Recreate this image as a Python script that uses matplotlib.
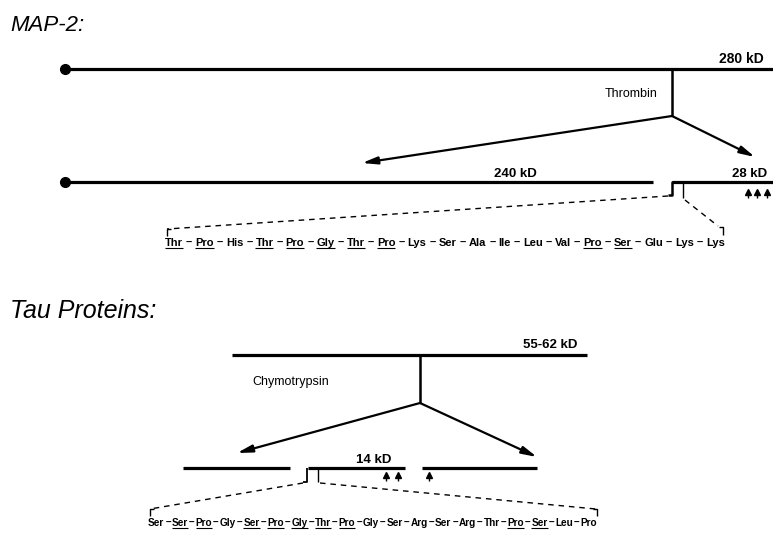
import matplotlib.pyplot as plt

plt.rcParams['font.family'] = ['Liberation Sans', 'DejaVu Sans']

# residues of the two peptide sequences and which ones are underlined
map2_seq = ['Thr', 'Pro', 'His', 'Thr', 'Pro', 'Gly', 'Thr', 'Pro', 'Lys', 'Ser',
            'Ala', 'Ile', 'Leu', 'Val', 'Pro', 'Ser', 'Glu', 'Lys', 'Lys']
map2_under = [0, 1, 3, 4, 5, 6, 7, 14, 15]
tau_seq = ['Ser', 'Ser', 'Pro', 'Gly', 'Ser', 'Pro', 'Gly', 'Thr', 'Pro', 'Gly',
           'Ser', 'Arg', 'Ser', 'Arg', 'Thr', 'Pro', 'Ser', 'Leu', 'Pro']
tau_under = [1, 2, 4, 5, 6, 7, 8, 15, 16]

titles = ['MAP-2:', 'Tau Proteins:']
map2_labels = ['280 kD', '240 kD', '28 kD']
tau_labels = ['55-62 kD', '14 kD']
enzymes = ['Thrombin', 'Chymotrypsin']

fig = plt.figure(figsize=(7.73, 5.34), dpi=100)
ax = fig.add_axes([0, 0, 1, 1])
ax.set_xlim(0, 773)
ax.set_ylim(534, 0)
ax.axis('off')
r = fig.canvas.get_renderer()

K = 'black'
LW = 2.3


def line(xs, ys, lw=LW, **kw):
    ax.plot(xs, ys, color=K, lw=lw, solid_capstyle='butt', **kw)


def arrow(x0, y0, x1, y1):
    ax.annotate('', xy=(x1, y1), xytext=(x0, y0),
                arrowprops=dict(arrowstyle='-|>,head_length=0.9,head_width=0.22',
                                color=K, lw=1.6, shrinkA=0, shrinkB=0))


def dashed(xs, ys):
    ax.plot(xs, ys, color=K, lw=1.0, ls=(0, (4, 3.5)))


def draw_seq(res, under, x0, x1, y, fs):
    toks = []
    for i, s in enumerate(res):
        toks.append((s, i in under))
        if i < len(res) - 1:
            toks.append(('\u2013', False))
    objs = [ax.text(0, y, s, fontsize=fs, fontweight='bold', va='baseline', ha='left')
            for s, u in toks]
    widths = [o.get_window_extent(r).width for o in objs]
    gap = (x1 - x0 - sum(widths)) / (len(objs) - 1)
    x = x0
    for o, w, (s, u) in zip(objs, widths, toks):
        o.set_x(x)
        if u:
            line([x, x + w], [y + 2, y + 2], lw=0.8)
        x += w + gap


# ---- MAP-2 ----
ax.text(10, 31, titles[0], fontsize=16, style='italic', va='baseline')
line([65, 773], [69, 69])
ax.plot(65, 69, 'o', color=K, ms=7)
ax.text(764, 63, map2_labels[0], fontsize=10, fontweight='bold', ha='right', va='baseline')
line([672, 672], [69, 116], lw=1.8)
ax.text(658, 97, enzymes[0], fontsize=9, ha='right', va='baseline')
arrow(672, 116, 362, 163)
arrow(672, 116, 755, 157)

line([65, 653], [182, 182])
ax.plot(65, 182, 'o', color=K, ms=7)
ax.text(515, 177, map2_labels[1], fontsize=9.5, fontweight='bold', ha='center', va='baseline')
line([668, 672, 672, 773], [195, 195, 182, 182], lw=1.8)
line([672, 773], [182, 182])
line([683, 683], [182, 198], lw=1.0)
ax.text(767, 177, map2_labels[2], fontsize=9.5, fontweight='bold', ha='right', va='baseline')
for x in [748, 757, 767]:
    line([x, x], [191, 198], lw=1.0)
    ax.plot(x, 192, '^', color=K, ms=4.5)

dashed([668, 167], [196, 229])
line([167, 167, 171], [236, 229, 229], lw=1.0)
dashed([685, 718], [200, 226])
line([719, 723, 723], [227, 227, 235], lw=1.0)
draw_seq(map2_seq, map2_under, 165, 725, 246, 8)

# ---- Tau ----
ax.text(10, 318, titles[1], fontsize=18, style='italic', va='baseline')
line([232, 587], [355, 355])
ax.text(577, 348, tau_labels[0], fontsize=9.5, fontweight='bold', ha='right', va='baseline')
line([420, 420], [355, 403], lw=1.8)
ax.text(252, 385, enzymes[1], fontsize=9, ha='left', va='baseline')
arrow(420, 403, 237, 453)
arrow(420, 403, 537, 457)

line([183, 290], [468, 468])
line([308, 405], [468, 468])
line([422, 537], [468, 468])
line([303, 307, 307], [482, 482, 468], lw=1.3)
line([318, 318], [468, 482], lw=1.0)
ax.text(374, 463, tau_labels[1], fontsize=9.5, fontweight='bold', ha='center', va='baseline')
for x in [386, 398, 429]:
    line([x, x], [474, 481], lw=1.0)
    ax.plot(x, 475, '^', color=K, ms=4.5)

dashed([303, 150], [483, 509])
line([150, 150, 154], [516, 509, 509], lw=1.0)
dashed([320, 596], [483, 509])
line([593, 597, 597], [509, 509, 516], lw=1.0)
draw_seq(tau_seq, tau_under, 148, 597, 526, 7.2)

fig.savefig('out.png', dpi=100)
